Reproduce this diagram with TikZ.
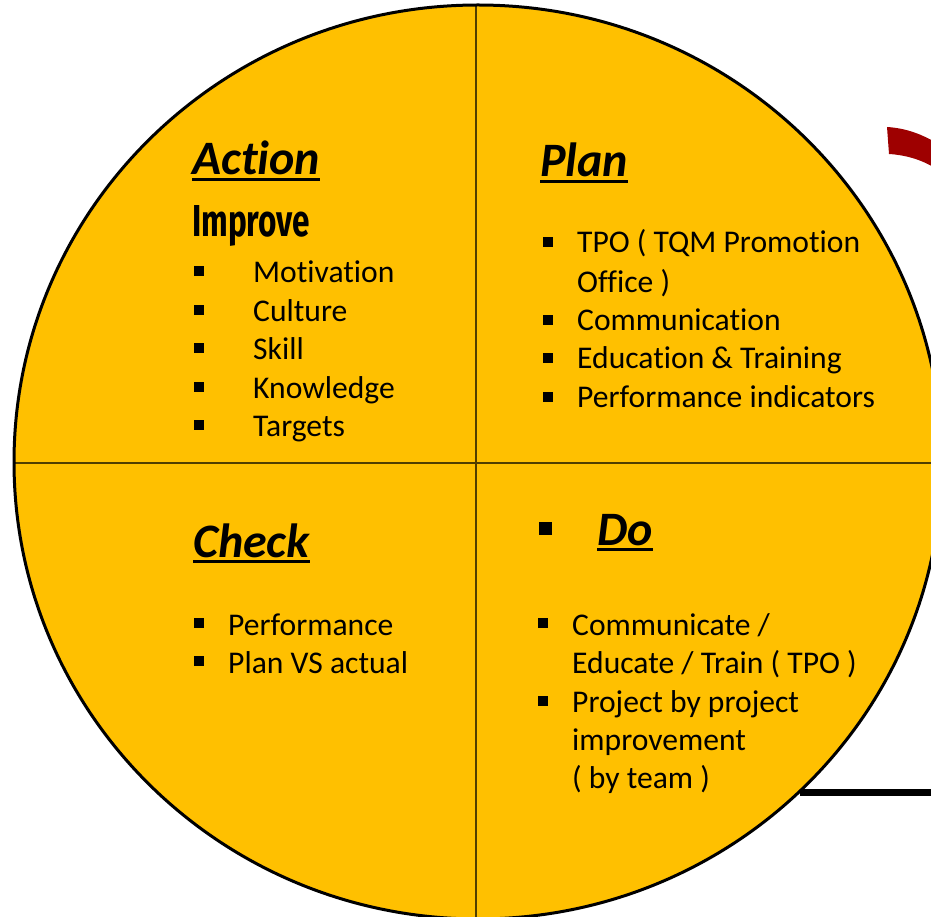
\documentclass[tikz,border=0pt]{standalone}
\usepackage{fontspec}
\setmainfont{Carlito}[Ligatures=CommonOff]
\newfontfamily\impfont{Fira Sans}
\definecolor{gold}{RGB}{255,192,0}
\definecolor{arcred}{RGB}{158,0,0}
\definecolor{divc}{RGB}{80,62,0}
\tikzset{
  body/.style={anchor=base west, inner sep=0pt, font=\fontsize{31.6}{38.5}\selectfont},
  head/.style={anchor=base west, inner sep=0pt, font=\fontsize{48}{58}\selectfont\bfseries\itshape},
  bul/.style={fill=black, rectangle, minimum size=10pt, inner sep=0pt},
  bigbul/.style={fill=black, rectangle, minimum size=13pt, inner sep=0pt},
  ulin/.style={line width=2.6pt},
  divider/.style={line width=1.4pt, draw=divc},
  rim/.style={line width=3pt, draw=black},
}
\begin{document}
\begin{tikzpicture}[x=1pt,y=-1pt]
\useasboundingbox (0,0) rectangle (931,917);
\clip (0,0) rectangle (931,917);
% black bar bottom right
\draw[line width=7pt] (800,792.5) -- (945,792.5);
% dark red arc fragment
\fill[arcred] (887,127) .. controls (904,128) and (919,133) .. (935,142)
  -- (935,168) .. controls (920,159) and (905,155) .. (889,154) -- cycle;
% disc
\fill[gold] (478,462) ellipse [x radius=464, y radius=457];
\draw[divider] (476,4) -- (476,920);
\draw[divider] (13,463) -- (945,463);
\draw[rim] (478,462) ellipse [x radius=464, y radius=457];

% Action
\node[head] (act) at (192,175) {Action};
\draw[ulin] ([yshift=-4.5pt]act.base west) -- ([yshift=-4.5pt]act.base east);
\node[anchor=base west, inner sep=0pt] (imp) at (192,237) {\resizebox{118pt}{31pt}{\impfont\bfseries Improve}};
\node[bul] (a1b) at (199,271) {};
\node[body] (a1) at (253,282) {Motivation};
\node[bul] (a2b) at (199,310) {};
\node[body] (a2) at (253,321) {Culture};
\node[bul] (a3b) at (199,348) {};
\node[body] (a3) at (253,359) {Skill};
\node[bul] (a4b) at (199,387) {};
\node[body] (a4) at (253,398) {Knowledge};
\node[bul] (a5b) at (199,425) {};
\node[body] (a5) at (253,436) {Targets};

% Plan
\node[head] (plan) at (540,177) {Plan};
\draw[ulin] ([yshift=-4.5pt]plan.base west) -- ([yshift=-4.5pt]plan.base east);
\node[bul] (p1b) at (548,242.5) {};
\node[body] (p1) at (577,253) {TPO ( TQM Promotion};
\node[body] (p1c) at (577,292) {Office )};
\node[bul] (p2b) at (548,319.5) {};
\node[body] (p2) at (577,330) {Communication};
\node[bul] (p3b) at (548,357.5) {};
\node[body] (p3) at (577,368) {Education \& Training};
\node[bul] (p4b) at (548,396.5) {};
\node[body] (p4) at (577,407) {Performance indicators};

% Check
\node[head] (chk) at (193,557) {Check};
\draw[ulin] ([yshift=-4.5pt]chk.base west) -- ([yshift=-4.5pt]chk.base east);
\node[bul] (c1b) at (199,623) {};
\node[body] (c1) at (228,635) {Performance};
\node[bul] (c2b) at (199,661) {};
\node[body] (c2) at (228,673) {Plan VS actual};

% Do
\node[bigbul] (dob) at (545,528) {};
\node[head] (do) at (597,545) {Do};
\draw[ulin] ([yshift=-4.5pt]do.base west) -- ([yshift=-4.5pt]do.base east);
\node[bul] (d1b) at (543,622.5) {};
\node[body] (d1) at (572,635) {Communicate /};
\node[body] (d1c) at (572,673) {Educate / Train ( TPO )};
\node[bul] (d2b) at (543,700.5) {};
\node[body] (d2) at (572,712) {Project by project};
\node[body] (d2c) at (572,750) {improvement};
\node[body] (d2d) at (572,788) {( by team )};
\end{tikzpicture}
\end{document}
